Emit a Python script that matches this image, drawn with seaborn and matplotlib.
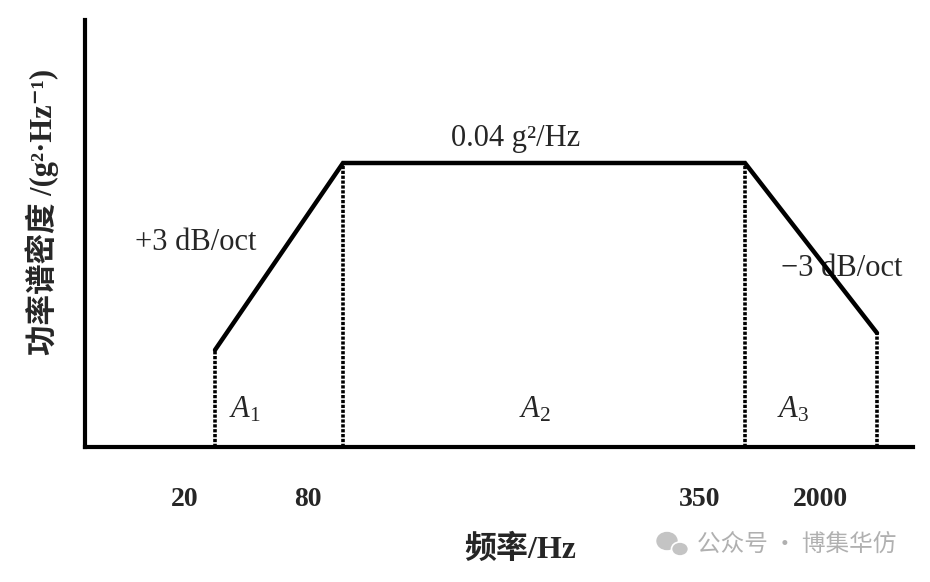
import matplotlib
matplotlib.use("Agg")
import matplotlib.pyplot as plt
from matplotlib.patches import Ellipse
import seaborn as sns
import pandas as pd

# Schematic data (arbitrary layout units, not to scale as in the original)
corner_pos = [130, 258, 660, 792]          # schematic positions of break points
psd_level = [97, 284, 284, 114]            # schematic PSD levels at break points
freq_labels = ["20", "80", "350", "2000"]  # frequency labels (Hz)
freq_label_pos = [100, 223, 615, 735]      # where the labels are printed
area_labels = [r"$A_1$", r"$A_2$", r"$A_3$"]
area_label_pos = [160, 450, 708]
level_text = "0.04 g\u00b2/Hz"
slope_up = "+3 dB/oct"
slope_down = "\u22123 dB/oct"

sns.set_theme(style="white")
plt.rcParams["font.family"] = ["Liberation Serif", "Noto Sans CJK SC", "DejaVu Sans"]
plt.rcParams["mathtext.fontset"] = "custom"
plt.rcParams["mathtext.rm"] = "Liberation Serif"
plt.rcParams["mathtext.it"] = "Liberation Serif:italic"
plt.rcParams["mathtext.bf"] = "Liberation Serif:bold"

fig = plt.figure(figsize=(9.3, 5.82), dpi=100)
ax = fig.add_axes([85 / 930, 1 - 447 / 582, (913 - 85) / 930, (447 - 20) / 582])
ax.set_xlim(0, 828)
ax.set_ylim(0, 427)

df = pd.DataFrame({"x": corner_pos, "y": psd_level})
sns.lineplot(data=df, x="x", y="y", sort=False, color="black", lw=3.2, ax=ax,
             solid_joinstyle="miter")
ax.vlines(corner_pos, 0, psd_level, colors="black", lw=2.6,
          linestyles=(0, (0.9, 0.45)), zorder=1)

for s in ["top", "right"]:
    ax.spines[s].set_visible(False)
for s in ["left", "bottom"]:
    ax.spines[s].set_linewidth(3.0)
    ax.spines[s].set_color("black")

ax.set_xticks(freq_label_pos)
ax.set_xticklabels(freq_labels, fontsize=20, fontweight="bold")
ax.tick_params(axis="x", length=0, pad=29)
ax.set_yticks([])
ax.set_xlabel("")
ax.set_ylabel("")

# annotations
ax.text(431, 309, level_text, ha="center", va="center", fontsize=22)
ax.text(111, 205, slope_up, ha="center", va="center", fontsize=22)
ax.text(757, 179, slope_down, ha="center", va="center", fontsize=22, zorder=0)
for lab, xp in zip(area_labels, area_label_pos):
    ax.text(xp, 37, lab, ha="center", va="center", fontsize=22)

fig.text(520 / 930, 1 - 550 / 582, "频率/Hz", ha="center", va="center",
         fontsize=23, fontweight="bold")
fig.text(42 / 930, 1 - 212 / 582, "功率谱密度 /(g\u00b2·Hz\u207b\u00b9)", ha="center",
         va="center", rotation=90, fontsize=22, fontweight="bold")

# watermark
fig.patches.append(Ellipse((667 / 930, 1 - 541 / 582), 20 / 930, 17 / 582,
                           transform=fig.transFigure, color="#c4c4c4", zorder=5))
fig.patches.append(Ellipse((680 / 930, 1 - 549 / 582), 17 / 930, 14 / 582,
                           transform=fig.transFigure, color="#c4c4c4", zorder=5,
                           ec="white", lw=1.2))
fig.text(697 / 930, 1 - 545 / 582, "公众号 · 博集华仿", ha="left", va="center",
         fontsize=17, color="#b0b0b0", family=["Noto Sans CJK SC", "DejaVu Sans"])

fig.savefig("out.png", dpi=100)
